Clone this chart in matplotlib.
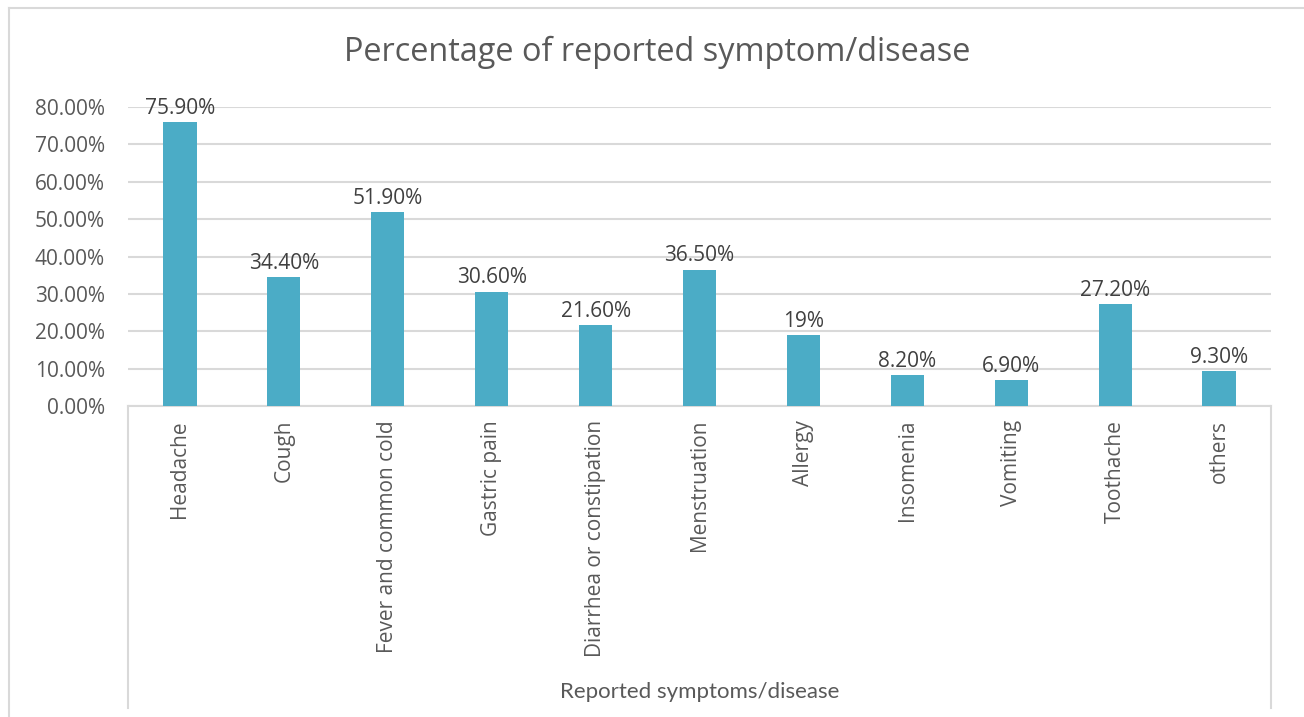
import matplotlib
matplotlib.use("Agg")
import matplotlib.pyplot as plt
from matplotlib.lines import Line2D
from matplotlib.ticker import FuncFormatter

# Dados do gráfico
sintomas = ["Headache", "Cough", "Fever and common cold", "Gastric pain",
            "Diarrhea or constipation", "Menstruation", "Allergy", "Insomenia",
            "Vomiting", "Toothache", "others"]
percentuais = [75.9, 34.4, 51.9, 30.6, 21.6, 36.5, 19, 8.2, 6.9, 27.2, 9.3]
yticks = [0, 10, 20, 30, 40, 50, 60, 70, 80]

COR_BARRA = "#4BACC6"
COR_TEXTO = "#595959"
COR_GRADE = "#D9D9D9"
FONTE = "Open Sans"

W, H = 1304, 717
fig = plt.figure(figsize=(W / 100, H / 100), dpi=100)

# borda externa do gráfico
fig.add_artist(Line2D([9 / W, 9 / W], [0, 1 - 8 / H], color=COR_GRADE, lw=1.5))
fig.add_artist(Line2D([9 / W, 1], [1 - 8 / H, 1 - 8 / H], color=COR_GRADE, lw=1.5))

x0, x1, ytop, ybot = 128, 1271, 107, 406
ax = fig.add_axes([x0 / W, 1 - ybot / H, (x1 - x0) / W, (ybot - ytop) / H])

pos = list(range(len(sintomas)))
barras = ax.bar(pos, percentuais, width=0.32, color=COR_BARRA, zorder=3)

def rotulo(v):
    return f"{v:.0f}%" if float(v).is_integer() else f"{v:.2f}%"

for b, v in zip(barras, percentuais):
    ax.annotate(rotulo(v), (b.get_x() + b.get_width() / 2, v),
                xytext=(0, 2.5), textcoords="offset points",
                ha="center", va="bottom", fontsize=15,
                color="#404040", family=FONTE)

ax.set_xlim(-0.5, len(sintomas) - 0.5)
ax.set_ylim(0, 80)
ax.set_yticks(yticks)
ax.yaxis.set_major_formatter(FuncFormatter(lambda v, p: f"{v:.2f}%"))
ax.grid(axis="y", color=COR_GRADE, lw=1.5, zorder=0)
ax.tick_params(axis="y", length=0, pad=16.5, labelsize=15, labelcolor=COR_TEXTO)
for t in ax.get_yticklabels():
    t.set_family(FONTE)

ax.set_xticks(pos)
ax.set_xticklabels(sintomas, rotation=90, va="top", ha="center",
                   fontsize=15, color=COR_TEXTO, family=FONTE)
ax.tick_params(axis="x", length=0, pad=10)

for lado in ["top", "right", "left"]:
    ax.spines[lado].set_visible(False)
ax.spines["bottom"].set_color(COR_GRADE)
ax.spines["bottom"].set_linewidth(1.5)

# caixa do eixo de categorias (nível externo)
fundo = -(708 - ybot) / (ybot - ytop)
for xx in [0, 1]:
    ax.add_line(Line2D([xx, xx], [0, fundo], transform=ax.transAxes,
                       color=COR_GRADE, lw=1.5, clip_on=False))
ax.text(0.5, -(692 - ybot) / (ybot - ytop), "Reported symptoms/disease",
        transform=ax.transAxes, ha="center", va="center",
        fontsize=16, color=COR_TEXTO, family="Lato")

fig.text(657 / W, 1 - 52 / H, "Percentage of reported symptom/disease",
         ha="center", va="center", fontsize=23.4, color=COR_TEXTO, family=FONTE)

fig.savefig("out.png", dpi=100)
